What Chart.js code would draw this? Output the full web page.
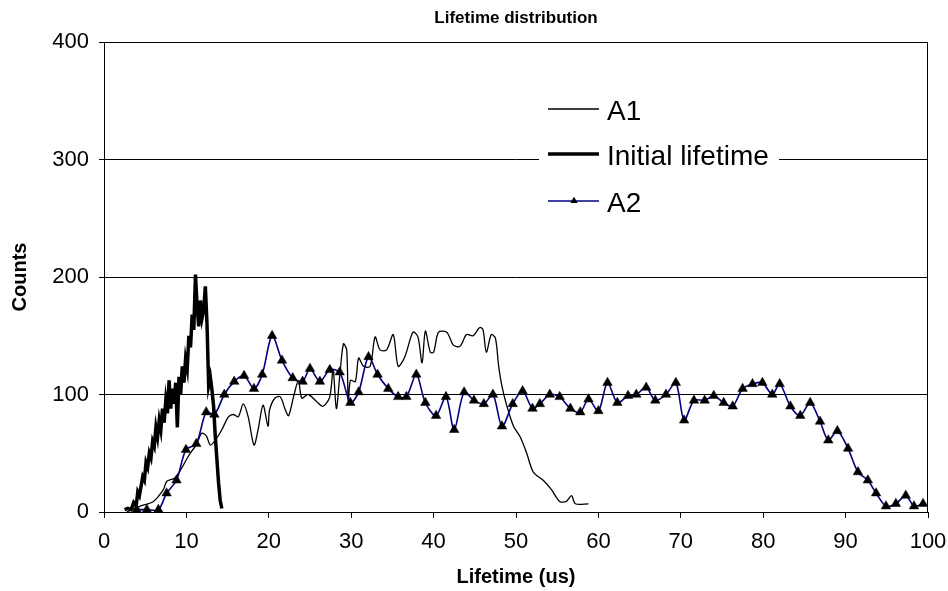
<!DOCTYPE html>
<html>
<head>
<meta charset="utf-8">
<title>Lifetime distribution</title>
<script src="https://cdn.jsdelivr.net/npm/chart.js@4.4.1/dist/chart.umd.min.js"></script>
<style>
  html, body { margin: 0; padding: 0; background: #fff; }
  #wrap { width: 948px; height: 591px; }
</style>
</head>
<body>
<div id="wrap"><canvas id="lifetimeChart" width="948" height="591"></canvas></div>
<script>
// A1 - lifetime (us) / counts
const a1X = [2.75, 4.4, 6.0, 7.2, 7.6, 8.6, 9.4, 10.2, 11.25, 11.85, 12.4, 12.9, 13.5, 14.3, 15.1, 15.7, 16.3, 16.9, 17.5, 18.2,
  18.7, 19.3, 19.9, 20.1, 20.75, 21.4, 22.0, 22.4, 23.0, 23.6, 24.0, 24.8, 25.8, 26.6, 27.4, 27.8, 28.2, 28.6, 29.05, 29.45,
  29.65, 29.9, 30.5, 30.9, 31.5, 32.3, 32.9, 33.5, 34.3, 35.1, 35.7, 36.5, 37.5, 38.1, 38.6, 39.0, 39.6, 40.0, 40.6, 41.6,
  42.4, 43.2, 44.0, 44.8, 45.6, 46.0, 46.4, 47.0, 47.5, 47.9, 48.3, 48.9, 49.7, 50.5, 51.3, 52.1, 53.3, 54.3, 55.3, 56.1,
  56.75, 57.2, 58.8];
const a1Y = [0, 5, 9, 19, 26, 29, 37, 47, 58, 67, 65, 57, 61, 70, 81, 83, 81, 92, 81, 57,
  70, 91, 73, 87, 97, 98, 87, 82, 98, 112, 97, 100, 94, 90, 98, 121, 88, 115, 143, 138,
  92, 112, 111, 131, 124, 124, 149, 138, 138, 151, 124, 132, 153, 149, 127, 154, 136, 136, 153, 153,
  142, 141, 151, 150, 157, 155, 136, 151, 148, 124, 107, 90, 73, 64, 50, 34, 27, 19, 9, 9,
  14, 7, 7];

// Initial lifetime
const initX = [2.5, 2.9, 3.3, 3.6, 3.9, 4.1, 4.3, 4.5, 4.7, 4.9, 5.1, 5.3, 5.5, 5.7, 5.9, 6.1, 6.3, 6.5, 6.7, 6.9,
  7.1, 7.3, 7.5, 7.7, 7.9, 8.1, 8.3, 8.5, 8.7, 8.9, 9.1, 9.3, 9.5, 9.7, 9.9, 10.1, 10.3, 10.5, 10.7, 10.9,
  11.1, 11.3, 11.5, 11.7, 11.9, 12.1, 12.3, 12.5, 12.7, 12.9, 13.1, 13.3, 13.5, 13.7, 13.9, 14.1, 14.3];
const initY = [2, 3, 2, 8, 5, 17, 14, 22, 30, 27, 42, 38, 50, 46, 60, 56, 72, 64, 78, 70,
  88, 76, 95, 84, 112, 88, 105, 92, 110, 72, 115, 100, 124, 110, 130, 122, 150, 140, 168, 155,
  202, 175, 158, 180, 165, 172, 192, 160, 108, 115, 104, 90, 65, 45, 25, 10, 3];

// A2
const a2X = [3.97, 5.2, 6.6, 7.6, 8.8, 9.95, 11.2, 12.4, 13.4, 14.6, 15.8, 17.0, 18.2, 19.2, 20.4, 21.6, 22.9, 24.1, 25.0, 26.2,
  27.4, 28.6, 29.9, 30.9, 32.1, 33.2, 34.5, 35.7, 36.7, 37.9, 39.0, 40.3, 41.5, 42.5, 43.7, 44.9, 46.1, 47.2, 48.3, 49.6,
  50.8, 52.0, 52.9, 54.1, 55.3, 56.6, 57.8, 58.8, 60.0, 61.1, 62.3, 63.6, 64.6, 65.8, 66.9, 68.2, 69.4, 70.4, 71.6, 72.9,
  74.0, 75.2, 76.3, 77.5, 78.7, 79.9, 81.1, 82.0, 83.3, 84.5, 85.7, 86.9, 87.9, 89.0, 90.3, 91.5, 92.7, 93.7, 94.9, 96.1,
  97.3, 98.3, 99.4];
const a2Y = [2, 2, 2, 16, 27, 53, 58, 85, 83, 100, 111, 116, 105, 117, 150, 129, 114, 111, 122, 111,
  121, 119, 93, 102, 132, 117, 105, 98, 98, 117, 93, 82, 98, 70, 102, 95, 92, 100, 73, 92,
  103, 88, 92, 100, 98, 88, 85, 96, 86, 110, 93, 99, 100, 106, 95, 100, 110, 78, 95, 95,
  99, 93, 90, 105, 109, 110, 100, 109, 90, 82, 93, 77, 61, 69, 54, 34, 27, 16, 5, 7,
  14, 5, 7];

const xTicks = [0, 10, 20, 30, 40, 50, 60, 70, 80, 90, 100];
const yTicks = [0, 100, 200, 300, 400];
const seriesNames = ['A1', 'Initial lifetime', 'A2'];

const FONT = '"Liberation Sans", Arial, sans-serif';

function toPoints(xs, ys) {
  return xs.map((x, i) => ({ x: x, y: ys[i] }));
}

// frame around the plot area
const plotFrame = {
  id: 'plotFrame',
  beforeDatasetsDraw(chart) {
    const { ctx, chartArea: a } = chart;
    ctx.save();
    ctx.strokeStyle = '#000';
    ctx.lineWidth = 1;
    ctx.strokeRect(Math.round(a.left) + 0.5, Math.round(a.top) + 0.5,
      Math.round(a.right - a.left) - 1, Math.round(a.bottom - a.top));
    ctx.restore();
  }
};

// legend box sitting inside the plot, over the 300 gridline
const insideLegend = {
  id: 'insideLegend',
  afterDatasetsDraw(chart) {
    const ctx = chart.ctx;
    const ds = chart.data.datasets;
    ctx.save();
    ctx.fillStyle = '#fff';
    ctx.fillRect(539, 92, 240, 132);

    const rows = [109, 154, 201];
    ds.forEach((d, i) => {
      const y = rows[i];
      ctx.strokeStyle = d.borderColor;
      ctx.lineWidth = d.borderWidth;
      ctx.beginPath();
      ctx.moveTo(548, y);
      ctx.lineTo(599, y);
      ctx.stroke();
      if (d.pointRadius > 0) {
        ctx.fillStyle = '#000';
        Chart.helpers.drawPoint(ctx, { pointStyle: 'triangle', radius: 4, borderWidth: 0, rotation: 0 }, 574, y);
        ctx.fill();
      }
      ctx.fillStyle = '#000';
      ctx.font = '28px ' + FONT;
      ctx.textBaseline = 'alphabetic';
      ctx.textAlign = 'left';
      ctx.fillText(d.label, 607, y + 11);
    });
    ctx.restore();
  }
};

const ctx = document.getElementById('lifetimeChart').getContext('2d');
new Chart(ctx, {
  type: 'line',
  data: {
    datasets: [
      {
        label: seriesNames[0],
        data: toPoints(a1X, a1Y),
        borderColor: '#000',
        borderWidth: 1.3,
        pointRadius: 0,
        tension: 0.3,
        order: 2
      },
      {
        label: seriesNames[1],
        data: toPoints(initX, initY),
        borderColor: '#000',
        borderWidth: 3.5,
        pointRadius: 0,
        tension: 0,
        order: 3
      },
      {
        label: seriesNames[2],
        data: toPoints(a2X, a2Y),
        borderColor: '#000080',
        borderWidth: 1.6,
        pointStyle: 'triangle',
        pointRadius: 5.5,
        pointBackgroundColor: '#000',
        pointBorderColor: '#000',
        pointBorderWidth: 0.5,
        tension: 0.3,
        clip: 8,
        order: 1
      }
    ]
  },
  options: {
    responsive: false,
    animation: false,
    layout: { padding: { left: 0, right: 20, top: 0, bottom: 0 } },
    plugins: {
      legend: { display: false },
      tooltip: { enabled: false },
      title: {
        display: true,
        fullSize: false,
        text: 'Lifetime distribution',
        color: '#000',
        font: { family: FONT, size: 17, weight: 'bold', lineHeight: 1.2 },
        padding: { top: 8, bottom: 13.6 }
      }
    },
    scales: {
      x: {
        type: 'linear',
        min: 0,
        max: 100,
        afterBuildTicks: s => { s.ticks = xTicks.map(v => ({ value: v })); },
        afterFit: s => { s.height = 79; s.paddingLeft = 0; s.paddingRight = 0; },
        grid: { drawOnChartArea: false, drawTicks: true, tickLength: 6, color: '#000', lineWidth: 1 },
        border: { display: true, color: '#000', width: 1 },
        ticks: { color: '#000', font: { family: FONT, size: 22 }, padding: 11, maxRotation: 0, autoSkip: false },
        title: {
          display: true,
          text: 'Lifetime (us)',
          color: '#000',
          font: { family: FONT, size: 20, weight: 'bold', lineHeight: 1.2 },
          padding: { top: 0, bottom: 2 }
        }
      },
      y: {
        min: 0,
        max: 400,
        afterBuildTicks: s => { s.ticks = yTicks.map(v => ({ value: v })); },
        afterFit: s => { s.width = 104; s.paddingTop = 0; s.paddingBottom = 0; },
        grid: { color: '#000', lineWidth: 1, drawTicks: true, tickLength: 5 },
        border: { display: true, color: '#000', width: 1 },
        ticks: { color: '#000', font: { family: FONT, size: 22 }, padding: 10 },
        title: {
          display: true,
          text: 'Counts',
          color: '#000',
          font: { family: FONT, size: 20, weight: 'bold', lineHeight: 1.2 },
          padding: { top: 8, bottom: 0 }
        }
      }
    }
  },
  plugins: [plotFrame, insideLegend]
});
</script>
</body>
</html>
